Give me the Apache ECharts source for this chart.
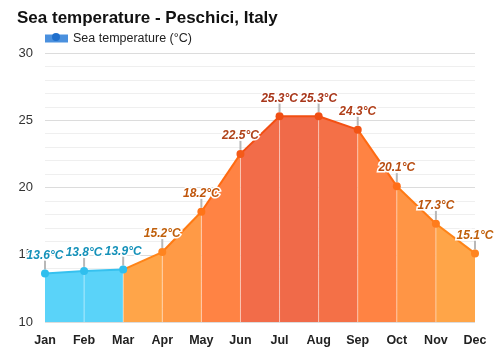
<!DOCTYPE html>
<html>
<head>
<meta charset="utf-8">
<script src="https://cdn.jsdelivr.net/npm/echarts@6/dist/echarts.min.js"></script>
<style>
  html, body { margin: 0; padding: 0; background: #fff; }
  #chart { width: 500px; height: 350px; }
</style>
</head>
<body>
<div id="chart"></div>
<script>
// Monthly sea temperature, Peschici
const months = ['Jan', 'Feb', 'Mar', 'Apr', 'May', 'Jun', 'Jul', 'Aug', 'Sep', 'Oct', 'Nov', 'Dec'];
const seaTemp = [13.6, 13.8, 13.9, 15.2, 18.2, 22.5, 25.3, 25.3, 24.3, 20.1, 17.3, 15.1];
const yTicks = [10, 15, 20, 25, 30];

// Fill colour of each month-to-month band
const bandFill = ['#5ad3f9', '#5ad3f9', '#ffa549', '#ff9a46', '#ff8344', '#f26c49', '#f06a49', '#f47047', '#ff8343', '#ff9545', '#ffa548'];
// Outline colour of each band
const bandLine = ['#36c1ef', '#36c1ef', '#ff8418', '#ff7a12', '#ff6a10', '#f24e12', '#f24e12', '#f45012', '#ff6a12', '#ff7a14', '#ff8418'];
// Marker and value-label colour of each month
const pointColor = ['#30bfee', '#30bfee', '#30bfee', '#ff8420', '#ff7418', '#f45a18', '#f04e14', '#f04e14', '#f25414', '#ff6e18', '#ff7c1c', '#ff8420'];
const labelColor = ['#1591b9', '#1591b9', '#1591b9', '#c0600c', '#c0560c', '#b0431a', '#a8361a', '#a8361a', '#b03e18', '#b84c10', '#bc560e', '#c0600c'];

const chart = echarts.init(document.getElementById('chart'), null, { renderer: 'canvas' });

const bandSeries = bandFill.map((fill, i) => ({
  type: 'line',
  data: seaTemp.map((v, j) => (j === i || j === i + 1) ? v : '-'),
  symbol: 'none',
  silent: true,
  lineStyle: { color: bandLine[i], width: 2 },
  areaStyle: { color: fill, opacity: 1, origin: 'start' },
  z: 2
}));

const option = {
  animation: false,
  title: {
    text: 'Sea temperature - Peschici, Italy',
    left: 12, top: 5,
    textStyle: { fontFamily: 'Liberation Sans, Arial', fontSize: 17, fontWeight: 'bold', color: '#111' }
  },
  legend: {
    left: 40, top: 27,
    itemWidth: 23, itemHeight: 8, itemGap: 6,
    icon: 'rect',
    data: [{ name: 'Sea temperature (°C)', itemStyle: { color: '#4a90de' } }],
    textStyle: { fontFamily: 'Liberation Sans, Arial', fontSize: 12.5, color: '#222' }
  },
  graphic: [{
    type: 'circle', left: 52, top: 33, z: 100,
    shape: { r: 4 }, style: { fill: '#1f6fcc' }
  }],
  grid: { left: 45, right: 25, top: 53, bottom: 28 },
  xAxis: {
    type: 'category',
    data: months,
    boundaryGap: false,
    axisLine: { show: false },
    axisTick: { show: false },
    axisLabel: { fontFamily: 'Liberation Sans, Arial', fontSize: 12.5, fontWeight: 'bold', color: '#222', margin: 12 },
    splitLine: { show: false }
  },
  yAxis: {
    type: 'value',
    min: yTicks[0], max: yTicks[yTicks.length - 1], interval: 5,
    axisLine: { show: false },
    axisTick: { show: false },
    axisLabel: { fontFamily: 'Liberation Sans, Arial', fontSize: 13, color: '#333', margin: 12 },
    splitLine: { lineStyle: { color: '#dcdcdc', width: 1 } },
    minorTick: { show: false, splitNumber: 5 },
    minorSplitLine: { show: true, lineStyle: { color: '#efefef', width: 1 } }
  },
  series: [
    ...bandSeries,
    {
      // faint white seams at each month inside the filled area
      type: 'custom',
      silent: true,
      z: 3,
      data: seaTemp.map((v, i) => [i, v]),
      renderItem: (params, api) => {
        const i = api.value(0);
        if (i === 0 || i === months.length - 1) return null;
        const top = api.coord([i, api.value(1)]);
        const base = api.coord([i, yTicks[0]]);
        return {
          type: 'line',
          shape: { x1: top[0], y1: top[1], x2: base[0], y2: base[1] },
          style: { stroke: 'rgba(255,255,255,0.45)', lineWidth: 1 }
        };
      }
    },
    {
      // short grey stems between each point and its value label
      type: 'custom',
      silent: true,
      z: 4,
      data: seaTemp.map((v, i) => [i, v]),
      renderItem: (params, api) => {
        const p = api.coord([api.value(0), api.value(1)]);
        return {
          type: 'line',
          shape: { x1: p[0], y1: p[1] - 4, x2: p[0], y2: p[1] - 13 },
          style: { stroke: '#b8b8b8', lineWidth: 2 }
        };
      }
    },
    {
      name: 'Sea temperature (°C)',
      type: 'line',
      z: 5,
      data: seaTemp.map((v, i) => ({
        value: v,
        itemStyle: { color: pointColor[i] },
        label: { color: labelColor[i] }
      })),
      symbol: 'circle',
      symbolSize: 8,
      lineStyle: { width: 0, opacity: 0 },
      label: {
        show: true,
        position: 'top',
        distance: 8,
        formatter: p => p.value + '°C',
        fontFamily: 'Liberation Sans, Arial',
        fontSize: 12,
        fontWeight: 'bold',
        fontStyle: 'italic',
        textBorderColor: '#fff',
        textBorderWidth: 3
      }
    }
  ]
};

chart.setOption(option);
</script>
</body>
</html>
